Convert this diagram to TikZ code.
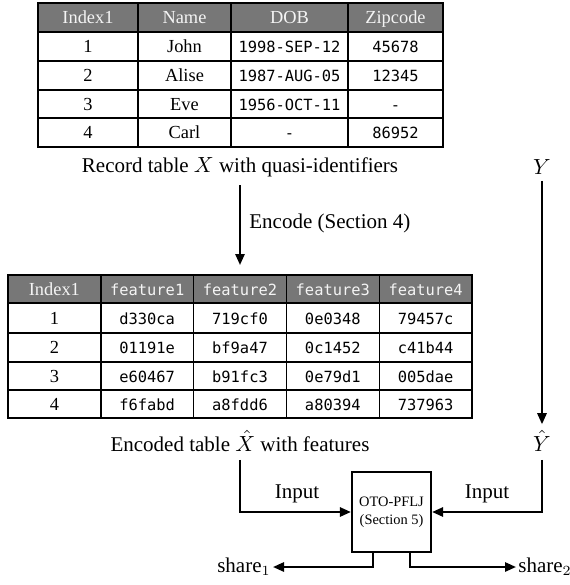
\documentclass[tikz,border=0pt]{standalone}
\usepackage{fontspec}
\setmainfont{Liberation Serif}
\setmonofont{DejaVu Sans Mono}
\usetikzlibrary{arrows.meta,calc}
\definecolor{hdr}{HTML}{777777}
\definecolor{hdrtxt}{HTML}{F4F4F4}
\tikzset{
  grid/.style={draw=black, line width=0.7pt},
  hdrcell/.style={fill=hdr},
  cbase/.style={inner sep=0pt, text height=7pt, text depth=1pt},
  cell/.style={cbase, font=\fontsize{9.2}{10}\selectfont},
  mcell/.style={cbase, font=\ttfamily\fontsize{7.7}{9}\selectfont},
  hcell/.style={cbase, text=hdrtxt, font=\fontsize{9.2}{10}\selectfont},
  hmcell/.style={cbase, text=hdrtxt, font=\ttfamily\fontsize{7.7}{9}\selectfont},
  lbl/.style={inner sep=1pt, font=\fontsize{10.5}{12}\selectfont},
  arr/.style={line width=1.1pt, -{Triangle[length=5.5pt,width=4.6pt]}},
  procbox/.style={draw, line width=1.1pt, fill=white, minimum width=39.5pt, minimum height=40pt, inner sep=0pt, align=center, font=\fontsize{7.2}{9}\selectfont}
}
\begin{document}
\begin{tikzpicture}[x=0.5pt,y=-0.5pt]
\useasboundingbox (0,0) rectangle (569,585);
% ---------- Table 1 ----------
\fill[hdrcell] (38,3) rectangle (443,32);
\draw[grid] (38,3) rectangle (443,147);
\foreach \yy in {32,61,90,118} \draw[grid] (38,\yy) -- (443,\yy);
\foreach \xx in {138,231,348} \draw[grid] (\xx,3) -- (\xx,147);
\node[hcell] (t1h1) at (88,17.5) {Index1};
\node[hcell] (t1h2) at (184.5,17.5) {Name};
\node[hcell] (t1h3) at (289.5,17.5) {DOB};
\node[hcell] (t1h4) at (395.5,17.5) {Zipcode};
\foreach \r/\yy/\a/\b/\c/\d in {1/46.5/1/John/1998-SEP-12/45678, 2/75.5/2/Alise/1987-AUG-05/12345, 3/104/3/Eve/1956-OCT-11/-, 4/132.5/4/Carl/-/86952}{
  \node[cell] (t1r\r c1) at (88,\yy) {\a};
  \node[cell] (t1r\r c2) at (184.5,\yy) {\b};
  \node[mcell] (t1r\r c3) at (289.5,\yy) {\c};
  \node[mcell] (t1r\r c4) at (395.5,\yy) {\d};
}
\node[lbl] (cap1) at (240,167) {Record table $X$ with quasi-identifiers};
% ---------- Table 2 ----------
\fill[hdrcell] (8,275) rectangle (472,303);
\draw[grid] (8,275) rectangle (472,418);
\foreach \yy in {303,333,362,390} \draw[grid] (8,\yy) -- (472,\yy);
\foreach \xx in {100.8,193.6,286.4,379.2} \draw[grid] (\xx,275) -- (\xx,418);
\node[hcell] (t2h1) at (54.4,289) {Index1};
\node[hmcell] (t2h2) at (147.2,289) {feature1};
\node[hmcell] (t2h3) at (240,289) {feature2};
\node[hmcell] (t2h4) at (332.8,289) {feature3};
\node[hmcell] (t2h5) at (425.6,289) {feature4};
\foreach \r/\yy/\a/\b/\c/\d/\e in {1/318/1/d330ca/719cf0/0e0348/79457c, 2/347.5/2/01191e/bf9a47/0c1452/c41b44, 3/376/3/e60467/b91fc3/0e79d1/005dae, 4/404/4/f6fabd/a8fdd6/a80394/737963}{
  \node[cell] (t2r\r c1) at (54.4,\yy) {\a};
  \node[mcell] (t2r\r c2) at (147.2,\yy) {\b};
  \node[mcell] (t2r\r c3) at (240,\yy) {\c};
  \node[mcell] (t2r\r c4) at (332.8,\yy) {\d};
  \node[mcell] (t2r\r c5) at (425.6,\yy) {\e};
}
\node[lbl] (cap2) at (240,441) {Encoded table $\hat{X}$ with features};
\coordinate (t2top) at (240,275);
% ---------- Encode arrow ----------
\draw[arr] ([yshift=-3pt]cap1.south) -- ([yshift=5pt]t2top);
\node[lbl, anchor=west] (enc) at (247,223) {Encode (Section 4)};
% ---------- Y ----------
\node[lbl] (Y) at (542,167) {$Y$};
\node[lbl] (Yh) at (542,441) {$\hat{Y}$};
\draw[arr] ([yshift=-2pt]Y.south) -- ([yshift=2pt]Yh.north);
% ---------- Process box ----------
\node[procbox] (box) at (391.5,512) {OTO-PFLJ\\(Section 5)};
\draw[arr] ([yshift=-3pt]cap2.south) |- (box.west);
\draw[arr] ([yshift=-3pt]Yh.south) |- (box.east);
\node[lbl] (in1) at (297,494) {Input};
\node[lbl] (in2) at (487,494) {Input};
% ---------- shares ----------
\node[lbl, anchor=east] (s1) at (273,567) {share$_1$};
\node[lbl, anchor=west] (s2) at (516,567) {share$_2$};
\draw[arr] ($(box.south)+(-18.5,0)$) |- (s1.east);
\draw[arr] ($(box.south)+(18.5,0)$) |- (s2.west);
\end{tikzpicture}
\end{document}
